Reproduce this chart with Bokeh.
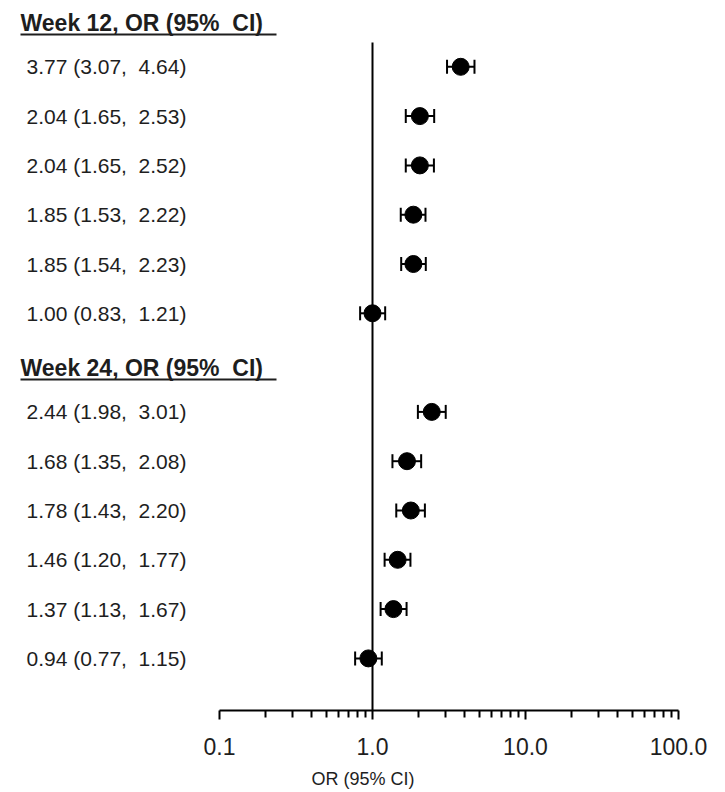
import math
from bokeh.plotting import figure
from bokeh.models import Range1d, FixedTicker
from bokeh.core.properties import value
from bokeh.embed import file_html
from bokeh.resources import INLINE

# ---- data ----
w12_or = [3.77, 2.04, 2.04, 1.85, 1.85, 1.00]
w12_lo = [3.07, 1.65, 1.65, 1.53, 1.54, 0.83]
w12_hi = [4.64, 2.53, 2.52, 2.22, 2.23, 1.21]
w24_or = [2.44, 1.68, 1.78, 1.46, 1.37, 0.94]
w24_lo = [1.98, 1.35, 1.43, 1.20, 1.13, 0.77]
w24_hi = [3.01, 2.08, 2.20, 1.77, 1.67, 1.15]
headers = ["Week 12, OR (95%\u00a0 CI)", "Week 24, OR (95%\u00a0 CI)"]
tick_values = [0.1, 1, 10, 100]
tick_labels = ["0.1", "1.0", "10.0", "100.0"]
axis_title = "OR (95% CI)"

# ---- layout ----
FW, FH = 725, 710
X0PX, DEC = 219, 153.0          # pixel of 0.1 and pixels per decade
ROW0PX, ROWPX = 17, 49.3        # pixel of row index 0 and pixels per row


def px2x(px):
    return 10 ** (-1 + (px - X0PX) / DEC)


def px2y(py):
    return (py - ROW0PX) / ROWPX


y_top, y_bot = px2y(0), px2y(FH)
hdr_y = [0, 7]
ys12 = [1, 2, 3, 4, 5, 6]
ys24 = [8, 9, 10, 11, 12, 13]

ors = w12_or + w24_or
los = w12_lo + w24_lo
his = w12_hi + w24_hi
ys = ys12 + ys24
labels = [f"{o:.2f} ({l:.2f},\u00a0 {h:.2f})" for o, l, h in zip(ors, los, his)]

p = figure(frame_width=FW, frame_height=FH, x_axis_type="log",
           x_range=Range1d(px2x(0), px2x(FW)), y_range=Range1d(y_bot, y_top),
           output_backend="svg", toolbar_location=None,
           min_border_left=0, min_border_right=0, min_border_top=0, min_border_bottom=0)
p.outline_line_color = None
p.xgrid.visible = False
p.ygrid.visible = False
p.yaxis.visible = False
p.background_fill_color = "white"

x_start = px2x(0)
font = value("Liberation Sans")
ink = "#1e1e1e"

# row labels
p.text(x=[x_start] * len(ys), y=ys, text=labels, x_offset=26,
       text_baseline="middle", text_align="left", text_font=font,
       text_font_size="21px", text_color=ink)
# headers
p.text(x=[x_start] * 2, y=hdr_y, text=headers, x_offset=20, y_offset=5,
       text_baseline="middle", text_align="left", text_font=font,
       text_font_style="bold", text_font_size="23px", text_color=ink)
p.segment(x0=[px2x(20)] * 2, x1=[px2x(276)] * 2,
          y0=[h + px2y(34) for h in hdr_y], y1=[h + px2y(34) for h in hdr_y],
          line_color=ink, line_width=2)

# reference line at OR = 1
p.segment(x0=[1], y0=[px2y(42)], x1=[1], y1=[y_bot], line_color="black", line_width=2)

# CIs
p.segment(x0=los, y0=ys, x1=his, y1=ys, line_color="black", line_width=2)
p.scatter(x=los + his, y=ys + ys, marker="dash", angle=math.pi / 2, size=14,
          line_color="black", line_width=2)
p.scatter(x=ors, y=ys, marker="circle", size=17, fill_color="black", line_color="black")

# axis
ax = p.xaxis[0]
ax.ticker = FixedTicker(ticks=tick_values,
                        minor_ticks=[m * 10 ** e for e in (-1, 0, 1) for m in range(2, 10)])
ax.bounds = (tick_values[0], tick_values[-1])
ax.major_label_overrides = {v: s for v, s in zip(tick_values, tick_labels)}
ax.axis_line_width = 2
ax.axis_line_color = "black"
ax.major_tick_line_width = 2
ax.minor_tick_line_width = 2
ax.major_tick_in = 0
ax.minor_tick_in = 0
ax.major_tick_out = 9
ax.minor_tick_out = 7
ax.major_label_standoff = 18
ax.major_label_text_font = "Liberation Sans"
ax.major_label_text_font_size = "23px"
ax.major_label_text_color = ink
ax.axis_label = axis_title
ax.axis_label_standoff = 11
ax.axis_label_text_font = "Liberation Sans"
ax.axis_label_text_font_size = "18px"
ax.axis_label_text_font_style = "normal"
ax.axis_label_text_color = ink

open("out.html", "w").write(file_html(p, INLINE))
